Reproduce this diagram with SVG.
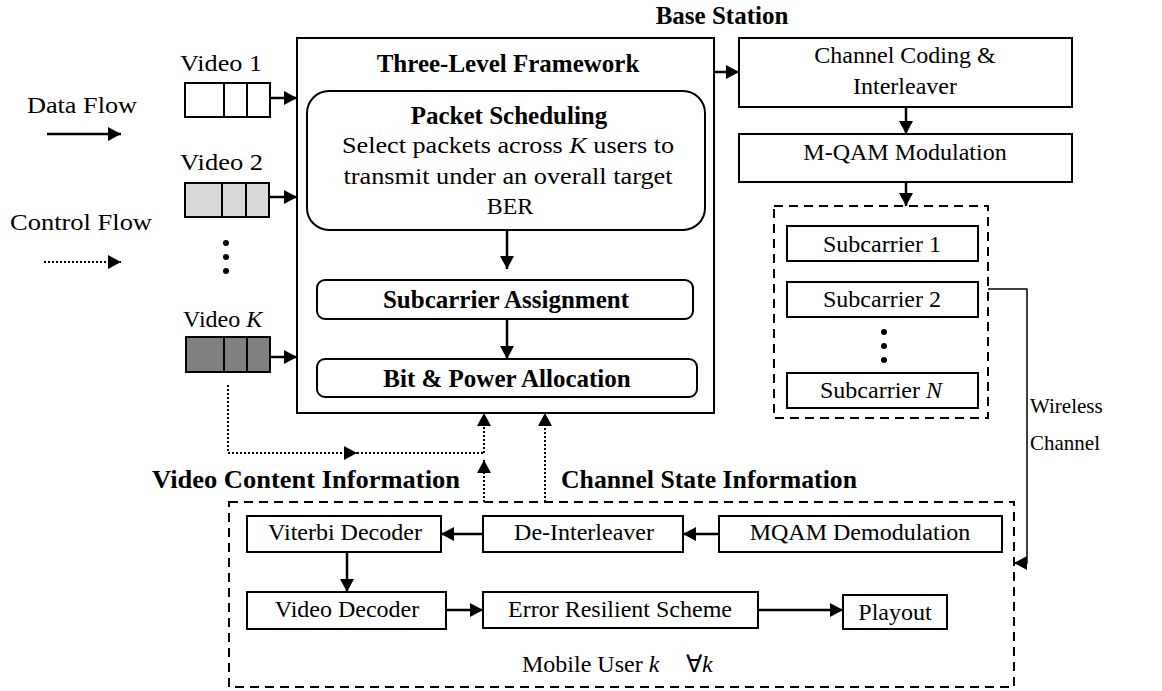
<svg xmlns="http://www.w3.org/2000/svg" width="1162" height="691" viewBox="0 0 1162 691">
<defs>
<marker id="ah" markerUnits="userSpaceOnUse" markerWidth="14" markerHeight="14" refX="13" refY="7" orient="auto">
<path d="M0,0 L13,7 L0,14 z" fill="#000"/>
</marker>
<style>
text{font-family:"Liberation Serif","Times New Roman",serif;fill:#000}
.t{font-size:24px}
.b{font-size:25px;font-weight:bold}
.s{font-size:21px}
.box{fill:#fff;stroke:#000;stroke-width:2}
.dash{fill:none;stroke:#000;stroke-width:2;stroke-dasharray:9,6}
.ln{fill:none;stroke:#000;stroke-width:2.5}
.dot{fill:none;stroke:#000;stroke-width:2;stroke-dasharray:2,2}
.thin{fill:none;stroke:#000;stroke-width:1.5}
</style>
</defs>
<rect width="1162" height="691" fill="#fff"/>

<g id="legend">
<text class="t" x="27" y="113" textLength="110" lengthAdjust="spacingAndGlyphs">Data Flow</text>
<text class="t" x="10" y="230" textLength="142" lengthAdjust="spacingAndGlyphs">Control Flow</text>
</g>

<g id="video1">
<text class="t" x="180" y="71" textLength="82" lengthAdjust="spacingAndGlyphs">Video 1</text>
<rect class="box" x="185" y="83" width="85" height="34"/>
<line x1="224" y1="83" x2="224" y2="117" stroke="#000" stroke-width="2"/>
<line x1="247" y1="83" x2="247" y2="117" stroke="#000" stroke-width="2"/>
</g>
<g id="video2">
<text class="t" x="180" y="170" textLength="83" lengthAdjust="spacingAndGlyphs">Video 2</text>
<rect class="box" x="185" y="183" width="84" height="34" style="fill:#d9d9d9"/>
<line x1="222" y1="183" x2="222" y2="217" stroke="#000" stroke-width="2"/>
<line x1="246" y1="183" x2="246" y2="217" stroke="#000" stroke-width="2"/>
</g>
<g id="vdots">
<circle cx="226" cy="243" r="3"/><circle cx="226" cy="257" r="3"/><circle cx="226" cy="271" r="3"/>
</g>
<g id="videoK">
<text class="t" x="183" y="327">Video <tspan font-style="italic">K</tspan></text>
<rect class="box" x="186" y="337" width="84" height="35" style="fill:#808080"/>
<line x1="224" y1="337" x2="224" y2="372" stroke="#000" stroke-width="2"/>
<line x1="247" y1="337" x2="247" y2="372" stroke="#000" stroke-width="2"/>
</g>

<g id="framework">
<rect class="box" x="297" y="38" width="417" height="375"/>
<text class="b" x="508" y="72" text-anchor="middle">Three-Level Framework</text>
</g>
<g id="packet-scheduling">
<rect class="box" x="307" y="91" width="398" height="139" rx="22"/>
<text class="b" x="509" y="124" text-anchor="middle">Packet Scheduling</text>
<text class="t" x="508" y="153" text-anchor="middle" textLength="332" lengthAdjust="spacingAndGlyphs">Select packets across <tspan font-style="italic">K</tspan> users to</text>
<text class="t" x="508" y="184" text-anchor="middle" textLength="329" lengthAdjust="spacingAndGlyphs">transmit under an overall target</text>
<text class="t" x="510" y="214" text-anchor="middle">BER</text>
</g>
<g id="subcarrier-assignment">
<rect class="box" x="317" y="280" width="376" height="39" rx="8"/>
<text class="b" x="506" y="308" text-anchor="middle">Subcarrier Assignment</text>
</g>
<g id="bit-power">
<rect class="box" x="317" y="359" width="380" height="38" rx="8"/>
<text class="b" x="507" y="387" text-anchor="middle">Bit &amp; Power Allocation</text>
</g>

<g id="base-station-label">
<text class="b" x="722" y="24" text-anchor="middle">Base Station</text>
</g>
<g id="channel-coding">
<rect class="box" x="739" y="38" width="333" height="69"/>
<text class="t" x="905" y="63" text-anchor="middle">Channel Coding &amp;</text>
<text class="t" x="905" y="94" text-anchor="middle">Interleaver</text>
</g>
<g id="mqam-mod">
<rect class="box" x="739" y="134" width="333" height="48"/>
<text class="t" x="905" y="160" text-anchor="middle">M-QAM Modulation</text>
</g>
<g id="subcarriers">
<rect class="dash" x="774" y="206" width="214" height="212"/>
<rect class="box" x="787" y="226" width="191" height="35"/>
<text class="t" x="882" y="252" text-anchor="middle">Subcarrier 1</text>
<rect class="box" x="787" y="282" width="191" height="35"/>
<text class="t" x="882" y="307" text-anchor="middle">Subcarrier 2</text>
<circle cx="884" cy="332" r="3"/><circle cx="884" cy="346" r="3"/><circle cx="884" cy="360" r="3"/>
<rect class="box" x="787" y="373" width="191" height="35"/>
<text class="t" x="881" y="398" text-anchor="middle">Subcarrier <tspan font-style="italic">N</tspan></text>
</g>
<g id="wireless-label">
<text class="s" x="1030" y="413">Wireless</text>
<text class="s" x="1030" y="450">Channel</text>
</g>

<g id="info-labels">
<text class="b" x="152" y="488" textLength="308" lengthAdjust="spacingAndGlyphs">Video Content Information</text>
<text class="b" x="561" y="488" textLength="296" lengthAdjust="spacingAndGlyphs">Channel State Information</text>
</g>

<g id="mobile-user">
<rect class="dash" x="229" y="502" width="785" height="185"/>
<text class="t" x="522" y="672">Mobile User <tspan font-style="italic">k</tspan></text>
<text class="t" x="686" y="672">∀<tspan font-style="italic">k</tspan></text>
</g>
<g id="viterbi">
<rect class="box" x="247" y="516" width="194" height="36"/>
<text class="t" x="345" y="540" text-anchor="middle">Viterbi Decoder</text>
</g>
<g id="deinterleaver">
<rect class="box" x="483" y="516" width="200" height="36"/>
<text class="t" x="584" y="540" text-anchor="middle">De-Interleaver</text>
</g>
<g id="mqam-demod">
<rect class="box" x="719" y="516" width="283" height="36"/>
<text class="t" x="860" y="540" text-anchor="middle">MQAM Demodulation</text>
</g>
<g id="video-decoder">
<rect class="box" x="247" y="592" width="199" height="37"/>
<text class="t" x="347" y="617" text-anchor="middle">Video Decoder</text>
</g>
<g id="error-resilient">
<rect class="box" x="483" y="592" width="275" height="36"/>
<text class="t" x="620" y="617" text-anchor="middle">Error Resilient Scheme</text>
</g>
<g id="playout">
<rect class="box" x="843" y="595" width="104" height="34"/>
<text class="t" x="895" y="620" text-anchor="middle">Playout</text>
</g>

<g id="connectors">
<line class="ln" x1="47" y1="134" x2="121" y2="134" marker-end="url(#ah)"/>
<line class="dot" x1="44" y1="262" x2="121" y2="262" marker-end="url(#ah)"/>
<line class="ln" x1="270" y1="98" x2="297" y2="98" marker-end="url(#ah)"/>
<line class="ln" x1="269" y1="197" x2="297" y2="197" marker-end="url(#ah)"/>
<line class="ln" x1="270" y1="357" x2="297" y2="357" marker-end="url(#ah)"/>
<line class="ln" x1="507" y1="230" x2="507" y2="269" marker-end="url(#ah)"/>
<line class="ln" x1="507" y1="319" x2="507" y2="359" marker-end="url(#ah)"/>
<line class="ln" x1="714" y1="72" x2="739" y2="72" marker-end="url(#ah)"/>
<line class="ln" x1="906" y1="107" x2="906" y2="134" marker-end="url(#ah)"/>
<line class="ln" x1="906" y1="182" x2="906" y2="206" marker-end="url(#ah)"/>
<polyline class="thin" points="988,289 1027,289 1027,563 1014,563" marker-end="url(#ah)"/>
<polyline class="dot" points="228,385 228,453 357,453" marker-end="url(#ah)"/>
<line class="dot" x1="357" y1="453" x2="484" y2="453"/>
<line class="dot" x1="484" y1="453" x2="484" y2="413" marker-end="url(#ah)"/>
<line class="dot" x1="484" y1="502" x2="484" y2="460" marker-end="url(#ah)"/>
<line class="dot" x1="545" y1="502" x2="545" y2="413" marker-end="url(#ah)"/>
<line class="ln" x1="483" y1="534" x2="441" y2="534" marker-end="url(#ah)"/>
<line class="ln" x1="719" y1="534" x2="683" y2="534" marker-end="url(#ah)"/>
<line class="ln" x1="347" y1="552" x2="347" y2="592" marker-end="url(#ah)"/>
<line class="ln" x1="446" y1="610" x2="483" y2="610" marker-end="url(#ah)"/>
<line class="ln" x1="758" y1="610" x2="843" y2="610" marker-end="url(#ah)"/>
</g>
</svg>
